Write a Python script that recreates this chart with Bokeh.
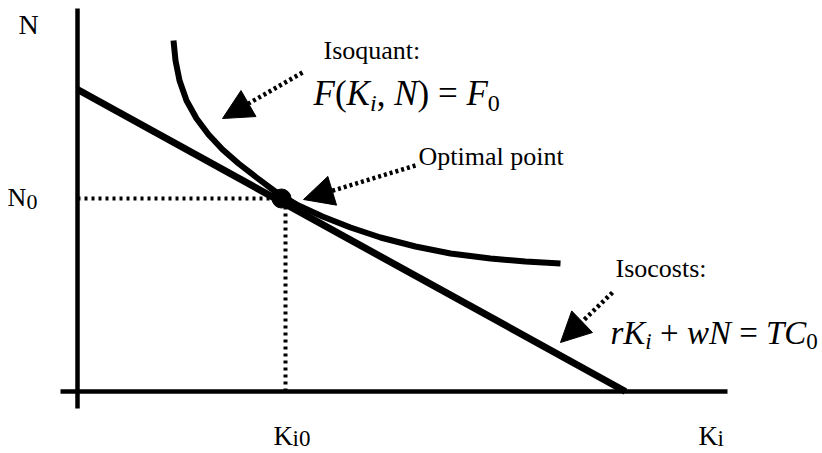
from bokeh.plotting import figure
from bokeh.models import Range1d, Label, Arrow, NormalHead
from bokeh.embed import file_html
from bokeh.resources import INLINE

# ---- data (model units, origin at the axes crossing) ----
axis_K_end = 650
axis_N_end = 383
axis_overhang = 17
isocost_K = [0, 548]
isocost_N = [302, 0]
isoquant_K = [96, 98, 102, 109, 119, 131, 145, 161, 179, 199, 221, 245, 273, 303, 338, 373, 413, 448, 483]
isoquant_N = [351, 331, 311, 291, 273, 257, 242, 228, 214, 199, 186, 175, 164, 154, 145, 138, 133, 130, 128]
K0 = 208
N0 = 193

# ---- layout helpers (page pixel -> model units) ----
OX, OY = 77, 391
W_PX, H_PX = 822, 453
TEXT_DY = 8  # renderer places alphabetic baselines a bit low
def X(px):
    return px - OX
def Y(py):
    return OY - py

FONT = "Liberation Serif"

p = figure(width=W_PX, height=H_PX, x_range=Range1d(0 - OX, W_PX - OX), y_range=Range1d(OY - H_PX, OY),
           output_backend="svg", toolbar_location=None, min_border=0,
           x_axis_type=None, y_axis_type=None)
p.grid.visible = False
p.outline_line_color = None
p.background_fill_color = "white"

# axes
p.line([0, 0], [-axis_overhang, axis_N_end], line_color="black", line_width=4.5)
p.line([-axis_overhang, axis_K_end], [0, 0], line_color="black", line_width=4.5)

# dotted guides
p.line([0, K0], [N0, N0], line_color="black", line_width=4, line_dash="3 4")
p.line([K0, K0], [0, N0], line_color="black", line_width=4, line_dash="3 4")

# isocost and isoquant
p.line(isocost_K, isocost_N, line_color="black", line_width=7)
p.line(isoquant_K, isoquant_N, line_color="black", line_width=6, line_join="round")

# optimal point
p.scatter([K0 - 4], [N0], size=19, color="black")

# arrows
def arrow(tail, tip):
    p.add_layout(Arrow(x_start=X(tail[0]), y_start=Y(tail[1]), x_end=X(tip[0]), y_end=Y(tip[1]),
                       line_color="black", line_width=4.5, line_dash="3 3",
                       end=NormalHead(size=30, fill_color="black", line_color="black", line_width=1)))
arrow((302, 72), (222, 118))
arrow((415, 165), (303, 199))
arrow((612, 292), (560, 342))

def label(px, py, text, size, style="normal"):
    p.add_layout(Label(x=X(px), y=Y(py - TEXT_DY), text=text, text_font=FONT, text_font_size=f"{size}px",
                       text_font_style=style, text_color="black",
                       text_baseline="alphabetic", text_align="left"))

label(323, 58, "Isoquant:", 26)
label(418, 164, "Optimal point", 26)
label(615, 276, "Isocosts:", 26)
label(18, 32, "N", 28)
label(7, 205, "N", 26)
label(26, 209, "0", 22)
label(273, 443, "K", 27)
label(292, 446, "i0", 23)
label(698, 443, "K", 27)
label(717, 446, "i", 23)

# math expressions
W = {"F": .611, "K": .667, "N": .667, "i": .278, "r": .389, "w": .667, "T": .556, "C": .667,
     "(": .333, ")": .333, ",": .25, "=": .564, "+": .564, "0": .5, " ": .25}

def math(runs, x0, base, size, sub_scale=0.7, sub_drop=0.28):
    x = x0
    for txt, it, sub in runs:
        s = size * sub_scale if sub else size
        y = base + (size * sub_drop if sub else 0)
        if txt.strip():
            label(x, y, txt, round(s), "italic" if it else "normal")
        x += sum(W[c] for c in txt) * s

math([("F", 1, 0), ("(", 0, 0), ("K", 1, 0), ("i", 1, 1), (",", 0, 0), (" ", 0, 0), ("N", 1, 0), (")", 0, 0),
      (" ", 0, 0), ("=", 0, 0), (" ", 0, 0), ("F", 1, 0), ("0", 0, 1)], 313, 101, 35)
math([("r", 1, 0), ("K", 1, 0), ("i", 1, 1), (" ", 0, 0), ("+", 0, 0), (" ", 0, 0), ("w", 1, 0),
      ("N", 1, 0), (" ", 0, 0), ("=", 0, 0), (" ", 0, 0), ("T", 1, 0), ("C", 1, 0), ("0", 0, 1)], 610, 340, 33)

open("out.html", "w").write(file_html(p, INLINE))
